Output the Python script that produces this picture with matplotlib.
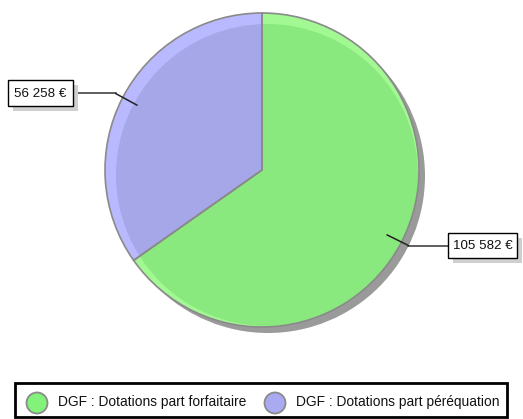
import numpy as np
import matplotlib
matplotlib.use("Agg")
import matplotlib.pyplot as plt
from matplotlib.patches import Circle, Rectangle

plt.rcParams['font.family'] = ['Liberation Sans', 'DejaVu Sans']

categories = ["DGF : Dotations part forfaitaire", "DGF : Dotations part péréquation"]
values = [105582, 56258]
value_labels = ["105 582 €", "56 258 €"]
rim_colors = ["#A2F892", "#B9B9FF"]
main_colors = ["#8AE97E", "#A6A7E9"]
legend_colors = ["#82F27A", "#AAAAF2"]

W, H = 523, 419
fig = plt.figure(figsize=(W / 100, H / 100), dpi=100)
ax = fig.add_axes([0, 0, 1, 1])

cx, cy, R = 262, 170, 157

# shadow
ax.add_patch(Circle((cx + 6, cy + 6), R, facecolor="#9A9A9A", edgecolor="none", zorder=1))

wedges, _ = ax.pie(values, startangle=270, counterclock=True, center=(cx, cy), radius=R,
                   colors=rim_colors, wedgeprops=dict(edgecolor="none", zorder=2))
for w, c in zip(wedges, main_colors):
    w.set_zorder(2)
    inner = Circle((cx + 5, cy + 5), R - 6, facecolor=c, edgecolor="none", zorder=3)
    ax.add_patch(inner)
    inner.set_clip_path(w)

outl, _ = ax.pie(values, startangle=270, counterclock=True, center=(cx, cy), radius=R,
                 wedgeprops=dict(facecolor="none", edgecolor="#8A8A8A", linewidth=1.2))
for w in outl:
    w.set_zorder(4)

# labels with leader lines
box_specs = [
    dict(side=1, x0=448, w=69, h=25),
    dict(side=-1, x0=8, w=65, h=26),
]
for w, lab, spec in zip(wedges, value_labels, box_specs):
    mid = np.deg2rad((w.theta1 + w.theta2) / 2)
    p1 = (cx + 141 * np.cos(mid), cy + 141 * np.sin(mid))
    p2 = (cx + 165 * np.cos(mid), cy + 165 * np.sin(mid))
    yb = p2[1] - 0.5
    if spec["side"] > 0:
        xe = spec["x0"]
    else:
        xe = spec["x0"] + spec["w"]
    ax.plot([p1[0], p2[0]], [p1[1], yb], color="#222222", lw=1.1, zorder=6)
    ax.plot([p2[0], xe], [yb, yb], color="#333333", lw=1.1, zorder=6)
    y0 = yb - spec["h"] / 2
    ax.add_patch(Rectangle((spec["x0"] + 5, y0 + 5), spec["w"], spec["h"],
                           facecolor="#CFCFCF", edgecolor="none", zorder=6))
    ax.add_patch(Rectangle((spec["x0"], y0), spec["w"], spec["h"],
                           facecolor="white", edgecolor="black", lw=1.0, zorder=7))
    ax.text(spec["x0"] + spec["w"] / 2, yb + 0.5, lab, ha="center", va="center",
            fontsize=9.6, color="#111111", zorder=8)

# legend
ax.add_patch(Rectangle((15, 383), 492, 34, facecolor="white", edgecolor="black", lw=2.0, zorder=5))
leg_x = [37, 275]
for xm, c, cat in zip(leg_x, legend_colors, categories):
    ax.add_patch(Circle((xm, 403), 10.5, facecolor=c, edgecolor="#8A8A8A", lw=1.3, zorder=6))
    ax.text(xm + 21, 402, cat, ha="left", va="center", fontsize=9.9, color="#111111", zorder=6)

ax.set_xlim(0, W)
ax.set_ylim(H, 0)
ax.set_aspect("equal")
ax.axis("off")

fig.savefig("out.png", dpi=100)
